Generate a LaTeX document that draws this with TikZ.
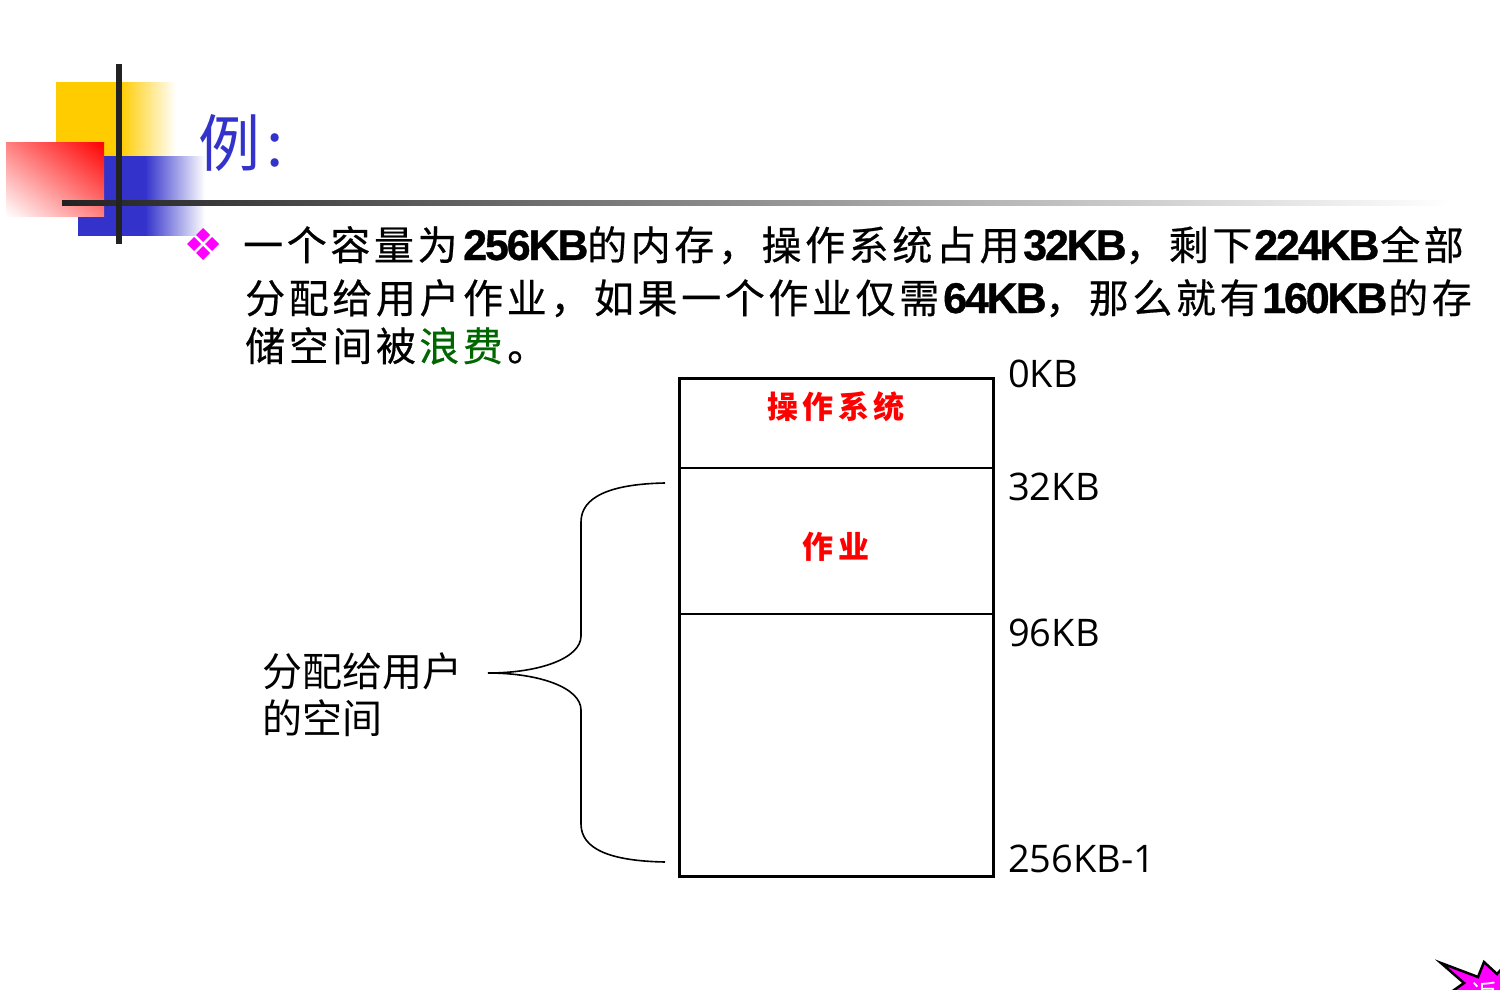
\documentclass[tikz,border=0pt]{standalone}
\usepackage{fontspec}
\usetikzlibrary{shadings}
\setmainfont{Liberation Sans}
\newfontfamily\cjkbody[LetterSpace=9,FakeBold=0.5]{Noto Sans CJK SC}
\newfontfamily\cjkplain{Noto Sans CJK SC}
\newfontfamily\cjkred[LetterSpace=14]{Noto Sans CJK SC}
\newfontfamily\latbold[LetterSpace=-5,FakeBold=0.8]{Liberation Sans Bold}
\newfontfamily\tah{Open Sans}
\definecolor{ttlblue}{HTML}{3333CC}
\definecolor{ylw}{HTML}{FFCC00}
\definecolor{barblack}{HTML}{222222}
\definecolor{wastegreen}{HTML}{006600}
\definecolor{mag}{HTML}{FF00FF}
\tikzset{
 body/.style={anchor=base west,inner sep=0pt,font=\cjkbody\fontsize{40}{40}\selectfont},
 num/.style={anchor=base west,inner sep=0pt,font=\latbold\fontsize{43}{43}\selectfont},
 rlabel/.style={anchor=base,inner sep=0pt,text=red,font=\cjkred\bfseries\fontsize{31}{31}\selectfont},
 addr/.style={anchor=base west,inner sep=0pt,font=\tah\fontsize{38}{38}\selectfont},
 plain/.style={anchor=base west,inner sep=0pt,font=\cjkplain\fontsize{40}{40}\selectfont},
 box/.style={line width=3pt,line cap=rect},
 sep/.style={line width=1.6pt},
 brace/.style={line width=1.6pt},
}
\begin{document}
\begin{tikzpicture}[x=1pt,y=-1pt]
\useasboundingbox (0,0) rectangle (1500,990);
\clip (0,0) rectangle (1500,990);
% decoration
\fill[ylw] (56,82) rectangle (120,156);
\shade[left color=ylw,right color=white] (120,82.5) rectangle (176,155.5);
\fill[ttlblue] (78,156) rectangle (145,236);
\shade[left color=ttlblue,right color=white] (145,156.5) rectangle (205,235.5);
\shade[lower left=white,upper right=red,upper left=white!50!red,lower right=white!50!red] (6,142) rectangle (104,216);
\shade[left color=barblack,right color=white] (62,200.5) rectangle (1450,205.5);
\fill[barblack] (116,64) rectangle (122,244);
% title
\node[anchor=base west,inner sep=0pt,text=ttlblue,font=\cjkplain\fontsize{62}{62}\selectfont] (title) at (198,166) {例\hspace{6pt}:};
% bullet
\foreach \dx/\dy in {0/-9,9/0,-9/0,0/9}
  \fill[mag] (203+\dx,244+\dy) +(0,-7) -- +(7,0) -- +(0,7) -- +(-7,0) -- cycle;
% text
\node[body] (l1a) at (243,260) {一个容量为};
\node[num]  (l1b) at (463,260) {256KB};
\node[body] (l1c) at (587,260) {的内存，操作系统占用};
\node[num]  (l1d) at (1023,260) {32KB};
\node[body] (l1e) at (1125,260) {，剩下};
\node[num]  (l1f) at (1254,260) {224KB};
\node[body] (l1g) at (1380,260) {全部};
\node[body] (l2a) at (245,313) {分配给用户作业，如果一个作业仅需};
\node[num]  (l2b) at (943,313) {64KB};
\node[body] (l2c) at (1045,313) {，那么就有};
\node[num]  (l2d) at (1262,313) {160KB};
\node[body] (l2e) at (1388,313) {的存};
\node[body] (l3a) at (245,361) {储空间被};
\node[body,text=wastegreen] (l3b) at (419,361) {浪费};
\node[body] (l3c) at (507,361) {。};
% memory box
\coordinate (tl) at (679,378);
\coordinate (tr) at (993,378);
\coordinate (bl) at (679,876);
\coordinate (br) at (993,876);
\coordinate (s1l) at (679,468);
\coordinate (s1r) at (993,468);
\coordinate (s2l) at (679,614);
\coordinate (s2r) at (993,614);
\draw[box] (tl) -- (tr) -- (br) -- (bl) -- cycle;
\draw[sep] (s1l) -- (s1r);
\draw[sep] (s2l) -- (s2r);
\node[rlabel] (os) at (836,418) {操作系统};
\node[rlabel] (job) at (836,558) {作业};
\node[addr] (a0) at (1008,387) {0KB};
\node[addr] (a1) at (1008,500) {32KB};
\node[addr] (a2) at (1008,646) {96KB};
\node[addr] (a3) at (1008,872) {256KB-1};
% brace
\node[plain] (w1) at (262,686) {分配给用户};
\node[plain] (w2) at (262,733) {的空间};
\coordinate (bt) at (665,483);
\coordinate (bm) at (488,673);
\coordinate (bb) at (665,862);
\draw[brace] (bt) .. controls (610,484) and (581,497) .. (581,522)
  -- (581,636) .. controls (581,658) and (540,673) .. (bm)
  .. controls (540,673) and (581,688) .. (581,710)
  -- (581,824) .. controls (581,849) and (610,861) .. (bb);
% star button
\path[fill=mag,draw=black,line width=2.5pt,line join=miter]
  (1441,963) -- (1478,977) -- (1484,962) -- (1497,974) -- (1510,960) -- (1515,1000) -- (1440,1000) -- (1464,983) -- cycle;
\node[anchor=base,inner sep=0pt,text=white,font=\cjkplain\fontsize{26}{26}\selectfont] (back) at (1484,1003) {返};
\end{tikzpicture}
\end{document}
